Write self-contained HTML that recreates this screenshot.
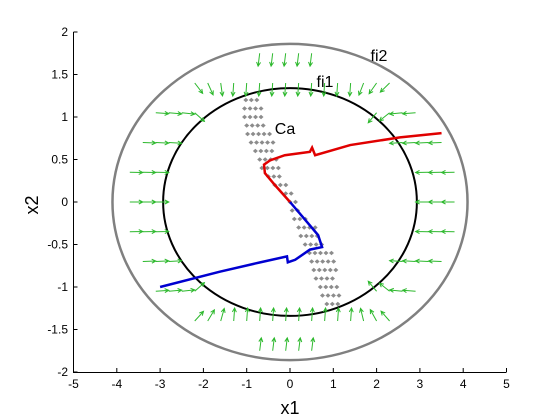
<!DOCTYPE html>
<html><head><meta charset="utf-8"><style>
body{margin:0;background:#fff}
svg{display:block;font-family:"Liberation Sans",sans-serif}
</style></head><body>
<svg id="c" width="560" height="420"></svg>
<script>
const xTicks=[-5,-4,-3,-2,-1,0,1,2,3,4,5];
const yTicks=[-2,-1.5,-1,-0.5,0,0.5,1,1.5,2];
const redX=[0,-0.35,-0.58,-0.6,-0.46,-0.12,0.46,0.51,0.58,1.39,2.54,3.5];
const redY=[0,0.2,0.34,0.44,0.49,0.55,0.59,0.64,0.55,0.67,0.76,0.81];
const blueX=[0,0.35,0.65,0.74,0.46,0.12,-0.05,-0.07,-0.69,-1.62,-3.0];
const blueY=[0,-0.21,-0.39,-0.53,-0.56,-0.68,-0.71,-0.64,-0.71,-0.82,-1.0];
const fi1=[2.93,1.34];
const fi2=[4.1,1.86];
const caRowsY=[1.2,1.1,1.0,0.9,0.8,0.7,0.6,0.5,0.4,0.3,0.2,0.1,0,-0.1,-0.2,-0.3,-0.4,-0.5,-0.6,-0.7,-0.8,-0.9,-1.0,-1.1,-1.2];
const caRowsX=[-1.02,-1.05,-1.05,-1.0,-0.98,-0.9,-0.8,-0.7,-0.65,-0.5,-0.35,-0.1,0.0,0.05,0.1,0.2,0.25,0.35,0.45,0.5,0.55,0.6,0.7,0.75,0.85];
const caRowsN=[3,4,4,4,5,5,4,4,4,3,3,2,2,2,3,4,4,4,5,5,5,4,4,4,3];
const X=v=>290+v*43.3, Y=v=>202-v*85;
const svg=document.getElementById('c');const NS='http://www.w3.org/2000/svg';
function mk(t,a,p){const e=document.createElementNS(NS,t);for(const k in a)e.setAttribute(k,a[k]);(p||svg).appendChild(e);return e;}
let ax=mk('path',{d:`M73.5,32V372.5H506.5`,stroke:'#000',fill:'none'});


xTicks.forEach(t=>{const x=X(t);mk('line',{x1:x,x2:x,y1:372,y2:368,stroke:'#000'});
 const l=mk('text',{x:x,y:388,'font-size':12,'text-anchor':'middle'});l.textContent=t;
 
 });
yTicks.forEach(t=>{const y=Y(t);mk('line',{x1:73.5,x2:77.5,y1:y,y2:y,stroke:'#000'});
 const l=mk('text',{x:68,y:y+4,'font-size':12,'text-anchor':'end'});l.textContent=t;
 
 });
let e2=mk('ellipse',{cx:X(0),cy:Y(0),rx:fi2[0]*43.3,ry:fi2[1]*85,fill:'none',stroke:'#808080','stroke-width':2.5});


let e1=mk('ellipse',{cx:X(0),cy:Y(0),rx:fi1[0]*43.3,ry:fi1[1]*85,fill:'none',stroke:'#000','stroke-width':2});


const g=mk('g',{stroke:'#2cb82c','stroke-width':1,fill:'none'});


for(let yy=-1.75;yy<=1.76;yy+=0.35){for(let xx=-4;xx<=4.01;xx+=0.3){
 const r1=(xx/fi1[0])**2+(yy/fi1[1])**2, r2=(xx/fi2[0])**2+(yy/fi2[1])**2;
 if(r1<1.05||r2>0.92)continue;
 let dx=-Math.sign(xx)*Math.max(0,Math.abs(xx)-1.4)*2.2 - Math.sign(yy)*0.5*Math.max(0,Math.abs(yy)-1.1);
 let dy=(yy)*0.5*(Math.abs(xx)<2.3?3:0.5);
 let L=Math.hypot(dx,dy)||1;let ux=dx/L,uy=dy/L,len=13;
 const x0=X(xx),y0=Y(yy),x1=x0+ux*len,y1=y0+uy*len;
 mk('path',{d:`M${x0},${y0}L${x1},${y1}M${x1-ux*4-uy*2},${y1-uy*4+ux*2}L${x1},${y1}L${x1-ux*4+uy*2},${y1-uy*4-ux*2}`},g);
}}
const cg=mk('g',{fill:'#8c8c8c'});


caRowsY.forEach((y,i)=>{for(let k=0;k<caRowsN[i];k++){const px=X(caRowsX[i])+k*5.5,py=Y(y);
 mk('path',{d:`M${px},${py-2.2}L${px+2.5},${py}L${px},${py+2.2}L${px-2.5},${py}Z`},cg);}});
function line(xs,ys,c,n){const p=mk('polyline',{points:xs.map((v,i)=>X(v)+','+Y(ys[i])).join(' '),fill:'none',stroke:c,'stroke-width':2.5});
 
 }
line(redX,redY,'#e00000','red-trajectory');
line(blueX,blueY,'#0000d0','blue-trajectory');
function txt(s,x,y,sz,n,rot){const t=mk('text',{x:x,y:y,'font-size':sz,'text-anchor':'middle'});if(rot)t.setAttribute('transform',`rotate(-90 ${x} ${y})`);t.textContent=s;
 
 }
txt('fi2',379,61,16,'fi2-label');
txt('fi1',325,87,16,'fi1-label');
txt('Ca',285,134,16,'ca-label');
txt('x1',290,414,18,'x-axis-title');
txt('x2',38,205,18,'y-axis-title',true);
</script>
</body></html>
